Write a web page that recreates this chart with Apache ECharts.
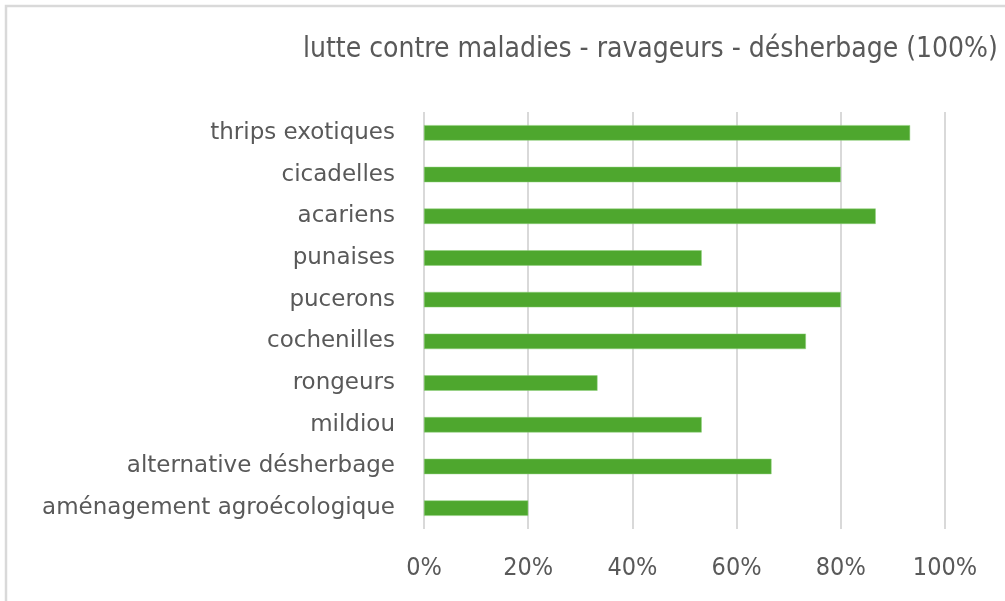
<!DOCTYPE html>
<html>
<head>
<meta charset="utf-8">
<script src="https://cdn.jsdelivr.net/npm/echarts@6/dist/echarts.min.js"></script>
<style>
  html, body { margin: 0; padding: 0; background: #fff; }
  #chart { width: 1005px; height: 601px; }
</style>
</head>
<body>
<div id="chart"></div>
<script>
// categories listed bottom to top (category axis starts at the bottom)
const categories = [
  'aménagement agroécologique',
  'alternative désherbage',
  'mildiou',
  'rongeurs',
  'cochenilles',
  'pucerons',
  'punaises',
  'acariens',
  'cicadelles',
  'thrips exotiques'
];
// share of answers, in %
const values = [20, 66.7, 53.3, 33.3, 73.3, 80, 53.3, 86.7, 80, 93.3];
const xTicks = [0, 20, 40, 60, 80, 100];

const narrow = 'Liberation Sans Narrow, DejaVu Sans Condensed, sans-serif';

const mChart = echarts.init(document.getElementById('chart'));

const option = {
  animation: false,
  backgroundColor: '#fff',
  title: {
    text: 'lutte contre maladies - ravageurs - désherbage (100%)',
    left: 298,
    top: 31,
    textStyle: {
      color: '#595959',
      fontSize: 28,
      fontWeight: 'normal',
      fontFamily: narrow
    }
  },
  graphic: [
    {
      type: 'polyline',
      shape: { points: [[6, 601], [6, 6], [1005, 6]] },
      style: { stroke: '#d9d9d9', lineWidth: 2.5, fill: null }
    }
  ],
  grid: {
    left: 424,
    right: 60,
    top: 112,
    bottom: 72
  },
  xAxis: {
    type: 'value',
    min: 0,
    max: 100,
    interval: 20,
    axisLine: { show: false },
    axisTick: { show: false },
    splitLine: {
      show: true,
      lineStyle: { color: '#d9d9d9', width: 2 }
    },
    axisLabel: {
      margin: 27,
      color: '#595959',
      fontSize: 25,
      fontFamily: narrow,
      formatter: v => xTicks.includes(v) ? v + '%' : ''
    }
  },
  yAxis: {
    type: 'category',
    data: categories,
    axisLine: { show: false },
    axisTick: { show: false },
    axisLabel: {
      margin: 29,
      color: '#595959',
      fontSize: 23,
      fontFamily: 'DejaVu Sans, sans-serif'
    }
  },
  series: [
    {
      type: 'bar',
      data: values,
      barWidth: '37%',
      itemStyle: {
        color: '#4ea72e',
        borderColor: '#8fd07a',
        borderWidth: 0.5
      }
    }
  ]
};

mChart.setOption(option);
</script>
</body>
</html>
